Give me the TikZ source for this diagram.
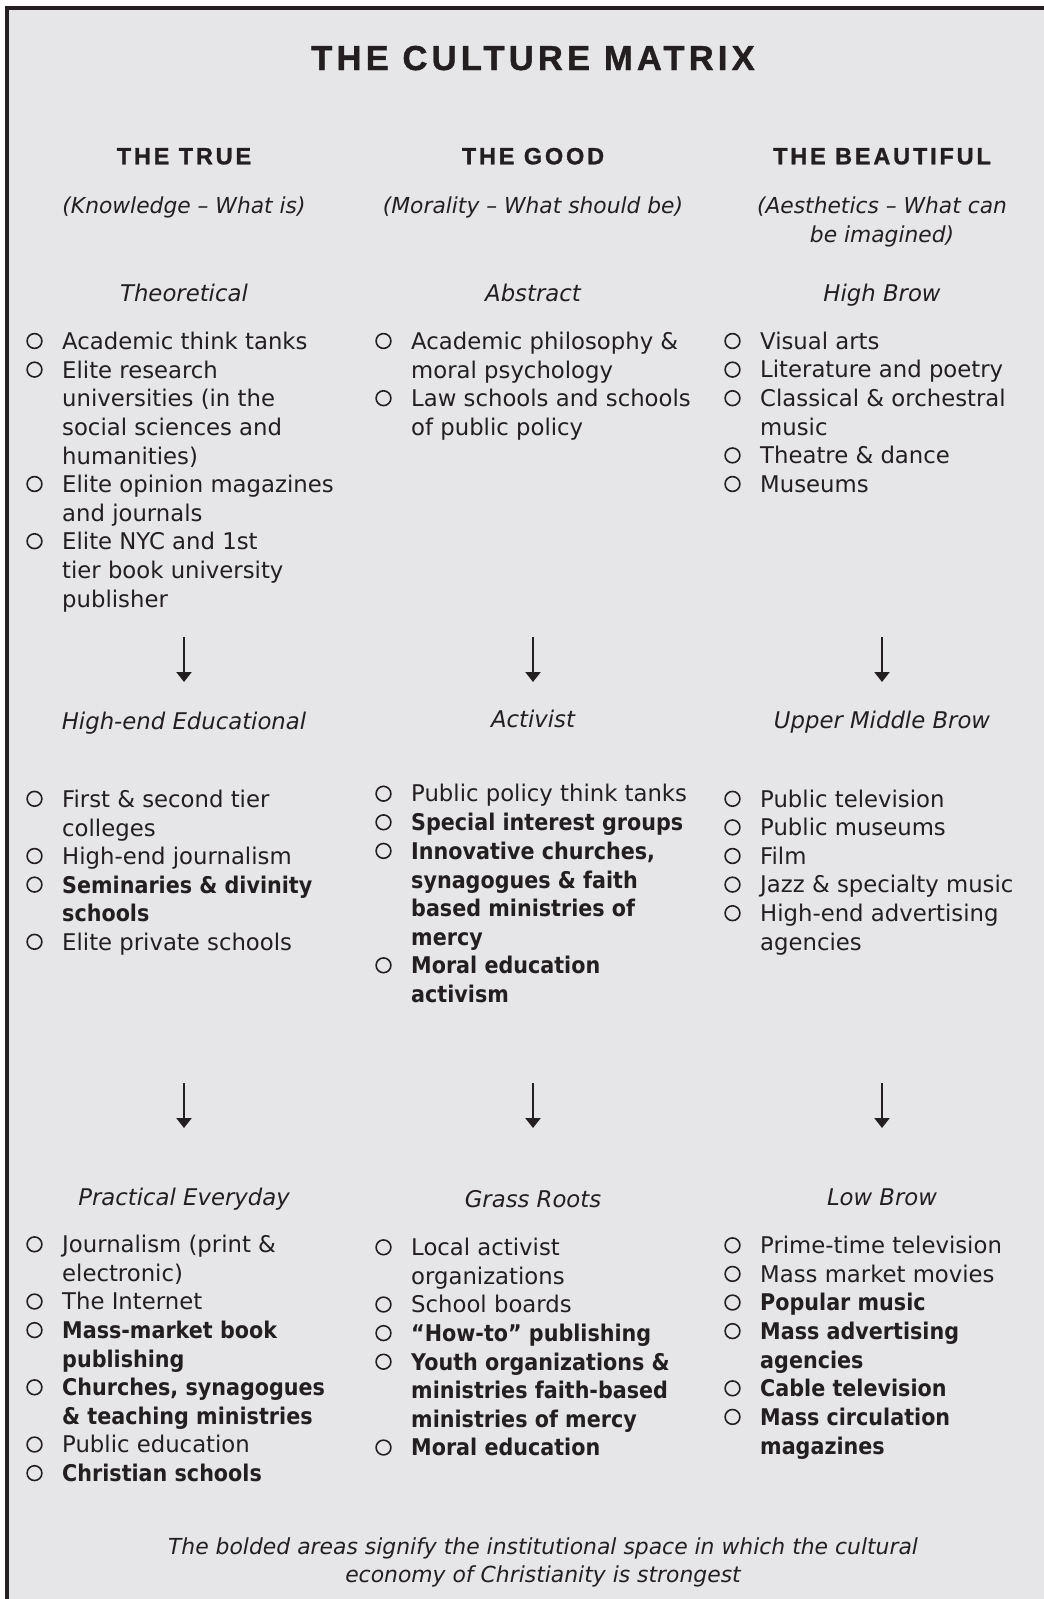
\documentclass[tikz,border=0pt]{standalone}
\usepackage{fontspec}
\usetikzlibrary{arrows.meta}
\setmainfont{DejaVu Sans}[FakeStretch=0.99, BoldFeatures={FakeStretch=0.9}]
\newfontfamily\capsfont[LetterSpace=12, FakeBold=1.2]{Liberation Sans}
\definecolor{MatrixGray}{HTML}{E6E6E8}
\definecolor{InkBlack}{HTML}{231F20}

\begin{document}
\begin{tikzpicture}[x=1pt,y=1pt,yscale=-1,
	entry/.style={anchor=north west, inner sep=0pt, align=left, text=InkBlack, font=\fontsize{23}{28.6}\selectfont, execute at begin node=\strut},
	boldentry/.style={entry, font=\fontsize{23}{28.6}\selectfont\bfseries},
	bul/.style={draw=InkBlack, line width=1.6pt},
	sectionhead/.style={anchor=base, inner sep=0pt, text=InkBlack, font=\fontsize{23}{28.6}\selectfont\itshape},
	colhead/.style={anchor=base, inner sep=0pt, text=InkBlack, font=\capsfont\fontsize{23.5}{28}\selectfont\bfseries},
	subhead/.style={anchor=north, inner sep=0pt, align=center, text=InkBlack, font=\fontsize{22}{29.4}\selectfont\itshape, execute at begin node=\strut},
	flow/.style={draw=InkBlack, line width=2.3pt, -{Triangle[width=15pt,length=10pt]}}]
		\useasboundingbox (0,0) rectangle (1044,1599);

		% Gray panel with the black frame on its top and left side
		\fill[white] (0,0) rectangle (1044,1599);
		\fill[MatrixGray] (7,8) rectangle (1044,1599);
		\draw[InkBlack, line width=4pt] (7,1599) -- (7,8) -- (1044,8);

		% Title
		\node[colhead, font=\capsfont\fontsize{34.6}{40}\selectfont\bfseries] (title) at (533,70) {THE CULTURE MATRIX};

		% Column headers and their subtitles
		\node[colhead] (trueh) at (184,164.3) {THE TRUE};
		\node[colhead] (goodh) at (533,164.3) {THE GOOD};
		\node[colhead] (beauth) at (882,164.3) {THE BEAUTIFUL};
		\node[subhead] (trues) at (184,192.7) {(Knowledge – What is)};
		\node[subhead] (goods) at (533,192.7) {(Morality – What should be)};
		\node[subhead] (beauts) at (882,196.2) {(Aesthetics – What can\\be imagined)};

		% First row: section heads
		\node[sectionhead] (theor) at (184,301) {Theoretical};
		\node[sectionhead] (abstr) at (533,301) {Abstract};
		\node[sectionhead] (highbrow) at (882,301) {High Brow};

		% First row: entries
		\node[entry] (t1a) at (62,329) {Academic think tanks};
		\node[entry] (t1b) at (62,360.6) {Elite research\\universities (in the\\social sciences and\\humanities)};
		\node[entry] (t1c) at (62,475) {Elite opinion magazines\\and journals};
		\node[entry] (t1d) at (62,532.2) {Elite NYC and 1st\\tier book university\\publisher};

		\node[entry] (g1a) at (411,332) {Academic philosophy \&\\moral psychology};
		\node[entry] (g1b) at (411,389.2) {Law schools and schools\\of public policy};

		\node[entry] (b1a) at (760,329) {Visual arts};
		\node[entry] (b1b) at (760,357.6) {Literature and poetry};
		\node[entry] (b1c) at (760,389.2) {Classical \& orchestral\\music};
		\node[entry] (b1d) at (760,443.4) {Theatre \& dance};
		\node[entry] (b1e) at (760,472) {Museums};

		% Arrows down to the second row
		\coordinate (ta1) at (184,637);
		\coordinate (ta2) at (184,682);
		\coordinate (ga1) at (533,637);
		\coordinate (ga2) at (533,682);
		\coordinate (ba1) at (882,637);
		\coordinate (ba2) at (882,682);
		\draw[flow] (ta1) -- (ta2);
		\draw[flow] (ga1) -- (ga2);
		\draw[flow] (ba1) -- (ba2);

		% Second row: section heads
		\node[sectionhead] (higheduc) at (184,729.3) {High-end Educational};
		\node[sectionhead] (activ) at (533,727.7) {Activist};
		\node[sectionhead] (uppermid) at (882,728.5) {Upper Middle Brow};

		% Second row: entries
		\node[entry] (t2a) at (62,789.8) {First \& second tier\\colleges};
		\node[entry] (t2b) at (62,844) {High-end journalism};
		\node[boldentry] (t2c) at (62,875.6) {Seminaries \& divinity\\schools};
		\node[entry] (t2d) at (62,929.8) {Elite private schools};

		\node[entry] (g2a) at (411,781.7) {Public policy think tanks};
		\node[boldentry] (g2b) at (411,810.3) {Special interest groups};
		\node[boldentry] (g2c) at (411,841.9) {Innovative churches,\\synagogues \& faith\\based ministries of\\mercy};
		\node[boldentry] (g2d) at (411,956.3) {Moral education\\activism};

		\node[entry] (b2a) at (760,786.8) {Public television};
		\node[entry] (b2b) at (760,815.4) {Public museums};
		\node[entry] (b2c) at (760,844) {Film};
		\node[entry] (b2d) at (760,872.6) {Jazz \& specialty music};
		\node[entry] (b2e) at (760,904.2) {High-end advertising\\agencies};

		% Arrows down to the third row
		\coordinate (tb1) at (184,1083.3);
		\coordinate (tb2) at (184,1128);
		\coordinate (gb1) at (533,1083.3);
		\coordinate (gb2) at (533,1128);
		\coordinate (bb1) at (882,1083.3);
		\coordinate (bb2) at (882,1128);
		\draw[flow] (tb1) -- (tb2);
		\draw[flow] (gb1) -- (gb2);
		\draw[flow] (bb1) -- (bb2);

		% Third row: section heads
		\node[sectionhead] (practical) at (184,1205) {Practical Everyday};
		\node[sectionhead] (grass) at (533,1207.3) {Grass Roots};
		\node[sectionhead] (lowbrow) at (882,1205.7) {Low Brow};

		% Third row: entries
		\node[entry] (t3a) at (62,1235.3) {Journalism (print \&\\electronic)};
		\node[entry] (t3b) at (62,1289.5) {The Internet};
		\node[boldentry] (t3c) at (62,1321.1) {Mass-market book\\publishing};
		\node[boldentry] (t3d) at (62,1378.3) {Churches, synagogues\\\& teaching ministries};
		\node[entry] (t3e) at (62,1432.5) {Public education};
		\node[boldentry] (t3f) at (62,1461.1) {Christian schools};

		\node[entry] (g3a) at (411,1238.3) {Local activist\\organizations};
		\node[entry] (g3b) at (411,1292.5) {School boards};
		\node[boldentry] (g3c) at (411,1321.1) {“How-to” publishing};
		\node[boldentry] (g3d) at (411,1352.7) {Youth organizations \&\\ministries faith-based\\ministries of mercy};
		\node[boldentry] (g3e) at (411,1435.5) {Moral education};

		\node[entry] (b3a) at (760,1233.3) {Prime-time television};
		\node[entry] (b3b) at (760,1261.9) {Mass market movies};
		\node[boldentry] (b3c) at (760,1290.5) {Popular music};
		\node[boldentry] (b3d) at (760,1322.1) {Mass advertising\\agencies};
		\node[boldentry] (b3e) at (760,1376.3) {Cable television};
		\node[boldentry] (b3f) at (760,1407.9) {Mass circulation\\magazines};

		% Open circle bullets in front of every entry (one-line, then wrapped ones)
		\foreach \n in {t1a,b1a,b1b,b1d,b1e,t2b,t2d,g2a,g2b,b2a,b2b,b2c,b2d,
			t3b,t3e,t3f,g3b,g3c,g3e,b3a,b3b,b3c,b3e}
			\draw[bul] ([shift={(-27.5,12)}]\n.north west) circle (7.4);
		\foreach \n in {t1b,t1c,t1d,g1a,g1b,b1c,t2a,t2c,g2c,g2d,b2e,
			t3a,t3c,t3d,g3a,g3d,b3d,b3f}
			\draw[bul] ([shift={(-27.5,9)}]\n.north west) circle (7.4);

		% Note at the bottom
		\node[subhead, font=\fontsize{22.1}{28.2}\selectfont\itshape] (note) at (543,1537.3) {The bolded areas signify the institutional space in which the cultural\\economy of Christianity is strongest};
	\end{tikzpicture}
\end{document}
